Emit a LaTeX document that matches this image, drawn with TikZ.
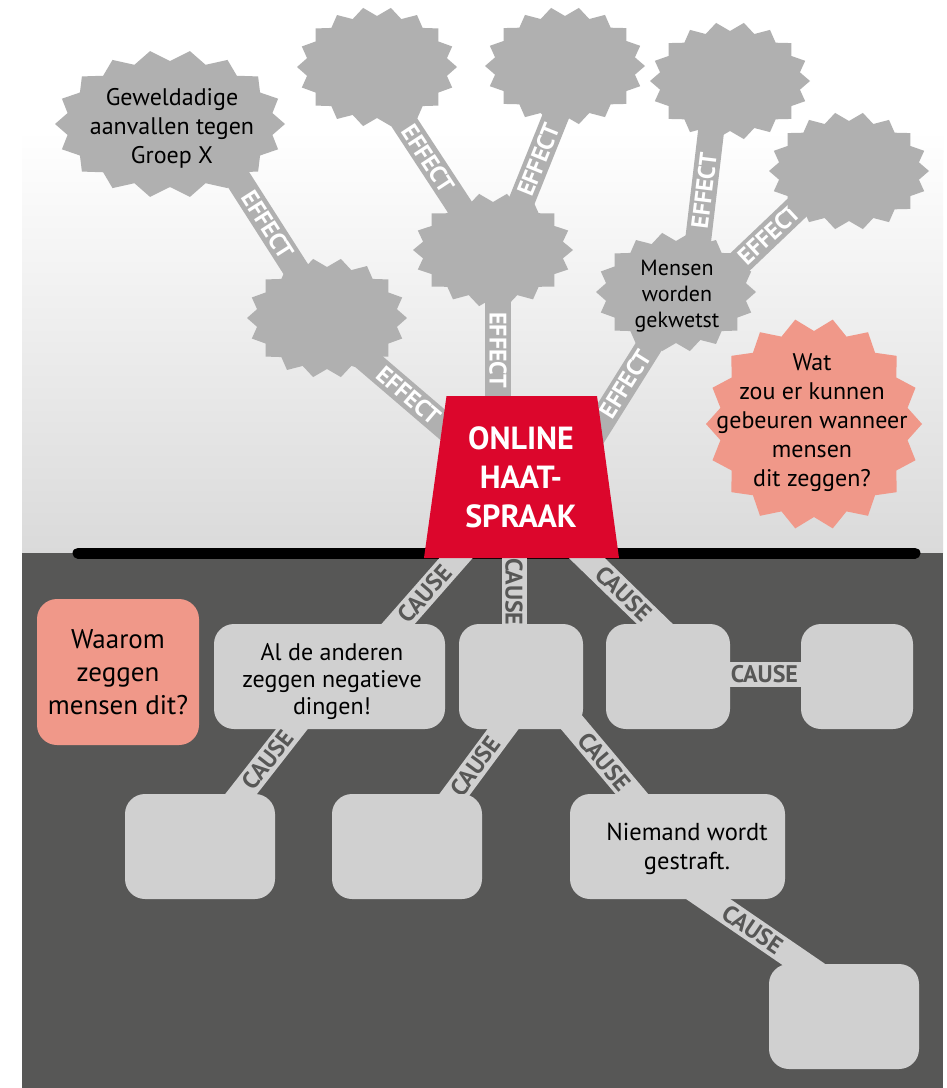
\documentclass[tikz,border=0pt]{standalone}
\usepackage{fontspec}
\setmainfont{PT Sans}
\usetikzlibrary{calc}
\definecolor{cloudgrey}{RGB}{176,176,176}
\definecolor{boxgrey}{RGB}{208,208,208}
\definecolor{darkbg}{RGB}{87,87,86}
\definecolor{hatered}{RGB}{220,6,44}
\definecolor{salmon}{RGB}{240,152,137}
\definecolor{gradbot}{RGB}{218,218,218}
\pgfdeclarelayer{back}
\pgfdeclarelayer{bars}
\pgfsetlayers{back,bars,main}
\newcommand\starblob[6]{\fill[#6] plot[samples at={0,...,35}] ({#1+(#3-#5*mod(\x,2))*cos(\x*10)},{#2+(#4-#5*mod(\x,2))*sin(\x*10)}) -- cycle;}
\begin{document}
\begin{tikzpicture}[x=1pt,y=-1pt,
  effbar/.style={line width=26pt, draw=cloudgrey},
  causebar/.style={line width=25pt, draw=boxgrey},
  efflab/.style={text=white, font=\bfseries\fontsize{24}{24}\selectfont, inner sep=0pt},
  causelab/.style={text=darkbg, font=\bfseries\fontsize{24}{24}\selectfont, inner sep=0pt},
  ctext/.style={align=center, text=black, inner sep=0pt},
  box/.style={fill=boxgrey, rounded corners=20pt, inner sep=0pt, align=center, text=black},
]
\useasboundingbox (0,0) rectangle (946,1088);
\begin{pgfonlayer}{back}
\fill[white] (0,0) rectangle (946,1088);
\shade[top color=white, bottom color=gradbot] (22,130) rectangle (943,553);
\fill[darkbg] (22,553) rectangle (943,1088);
\draw[black, line width=11pt, line cap=round] (78,553) -- (915,553);
\end{pgfonlayer}

% clouds (effects)
\starblob{170}{124}{115}{74}{11}{cloudgrey}
\node[ctext, font=\fontsize{24}{29}\selectfont] (A) at (172,128) {Geweldadige\\aanvallen tegen\\Groep X};
\starblob{327}{318}{80}{60}{9}{cloudgrey}
\node[ctext] (B) at (327,318) {};
\starblob{377}{67}{80}{60}{9}{cloudgrey}
\node[ctext] (C) at (377,67) {};
\starblob{493}{250}{80}{57}{9}{cloudgrey}
\node[ctext] (D) at (493,250) {};
\starblob{565}{66}{80}{59}{9}{cloudgrey}
\node[ctext] (E) at (565,66) {};
\starblob{730}{81}{80}{59}{9}{cloudgrey}
\node[ctext] (F) at (730,81) {};
\starblob{849}{171}{80}{59}{9}{cloudgrey}
\node[ctext] (G) at (849,171) {};
\starblob{676}{292}{80}{60}{9}{cloudgrey}
\node[ctext, font=\fontsize{22}{26}\selectfont] (H) at (677,296) {Mensen\\worden\\gekwetst};
\starblob{814}{424}{108}{106}{13}{salmon}
\node[ctext, font=\fontsize{24}{29}\selectfont] (I) at (812,423) {Wat\\zou er kunnen\\gebeuren wanneer\\mensen\\dit zeggen?};

% central trapezoid
\fill[hatered] (446.5,396) -- (597,396) -- (619,558) -- (424,558) -- cycle;
\node[ctext, text=white, font=\bfseries\fontsize{32}{39}\selectfont] (trap) at (521,477) {ONLINE\\HAAT-\\SPRAAK};

% boxes (causes)
\node[box, fill=salmon, minimum width=162pt, minimum height=146pt, font=\fontsize{27}{33}\selectfont] (bW) at (118,672) {Waarom\\zeggen\\mensen dit?};
\node[box, minimum width=231pt, minimum height=105pt] (bAl) at (329.5,676.5) {};
\node[ctext, font=\fontsize{24}{27}\selectfont] (bAlt) at (332,682) {Al de anderen\\zeggen negatieve\\dingen!};
\node[box, minimum width=124pt, minimum height=105pt] (b3) at (521,676.5) {};
\node[box, minimum width=124pt, minimum height=105pt] (b4) at (668,676.5) {};
\node[box, minimum width=112pt, minimum height=105pt] (b5) at (857,676.5) {};
\node[box, minimum width=150pt, minimum height=105pt] (b6) at (200,846.5) {};
\node[box, minimum width=150pt, minimum height=105pt] (b7) at (407,846.5) {};
\node[box, minimum width=215pt, minimum height=105pt] (b8) at (677.5,846.5) {};
\node[ctext, font=\fontsize{24.5}{29}\selectfont] (b8t) at (687,849) {Niemand wordt\\gestraft.};
\node[box, minimum width=150pt, minimum height=105pt] (b9) at (844,1016.5) {};

% connectors
\begin{pgfonlayer}{bars}
\draw[effbar] ($(B)+(-9,0)$) -- ($(trap)+(-25.5,-7)$) node[efflab, pos=0.51, rotate=-40.5] (lE1) {EFFECT};
\draw[effbar] ($(A)+(31,-4)$) -- ($(B)+(0,0)$) node[efflab, pos=0.52, rotate=-57.4] (lE2) {EFFECT};
\draw[effbar] ($(D)+(5,0)$) -- ($(trap)+(-23,-27)$) node[efflab, pos=0.5, rotate=-90] (lE3) {EFFECT};
\draw[effbar] ($(C)+(-9,0)$) -- ($(D)+(-5,0)$) node[efflab, pos=0.5, rotate=-56.8] (lE4) {EFFECT};
\draw[effbar] ($(D)+(9,0)$) -- ($(E)+(11,0)$) node[efflab, pos=0.49, rotate=68] (lE5) {EFFECT};
\draw[effbar] ($(H)+(6,-4)$) -- ($(trap)+(51,-8)$) node[efflab, pos=0.52, rotate=58] (lE6) {EFFECT};
\draw[effbar] ($(H)+(15,-4)$) -- ($(F)+(-13,0)$) node[efflab, pos=0.48, rotate=83] (lE7) {EFFECT};
\draw[effbar] ($(H)+(21,6)$) -- ($(G)+(-3,-10)$) node[efflab, pos=0.48, rotate=43] (lE8) {EFFECT};

\draw[causebar] ($(bAl)+(22.5,0)$) -- ($(trap)+(-14,23)$) node[causelab, pos=0.47, rotate=48.7] (lC1) {CAUSE};
\draw[causebar] ($(b3)+(-7,0)$) -- ($(trap)+(-7,23)$) node[causelab, pos=0.48, rotate=-90] (lC2) {CAUSE};
\draw[causebar] ($(trap)+(6,23)$) -- ($(b4)+(41,0)$) node[causelab, pos=0.53, rotate=-44] (lC3) {CAUSE};
\draw[causebar] ($(b4)+(0,-2)$) -- ($(b5)+(0,-2)$) node[causelab, pos=0.51] (lC4) {CAUSE};
\draw[causebar] (b6.center) -- ($(bAl)+(3.5,0)$) node[causelab, pos=0.51, rotate=52] (lC5) {CAUSE};
\draw[causebar] ($(b7)+(9,0)$) -- ($(b3)+(21,0)$) node[causelab, pos=0.47, rotate=53.6] (lC6) {CAUSE};
\draw[causebar] ($(b3)+(12,0)$) -- ($(b8)+(-1.5,0)$) node[causelab, pos=0.5, rotate=-50] (lC7) {CAUSE};
\draw[causebar] ($(b8)+(0,31.5)$) -- ($(b9)+(0,-24.5)$) node[causelab, pos=0.45, rotate=-34.4] (lC8) {CAUSE};
\end{pgfonlayer}
\end{tikzpicture}
\end{document}
